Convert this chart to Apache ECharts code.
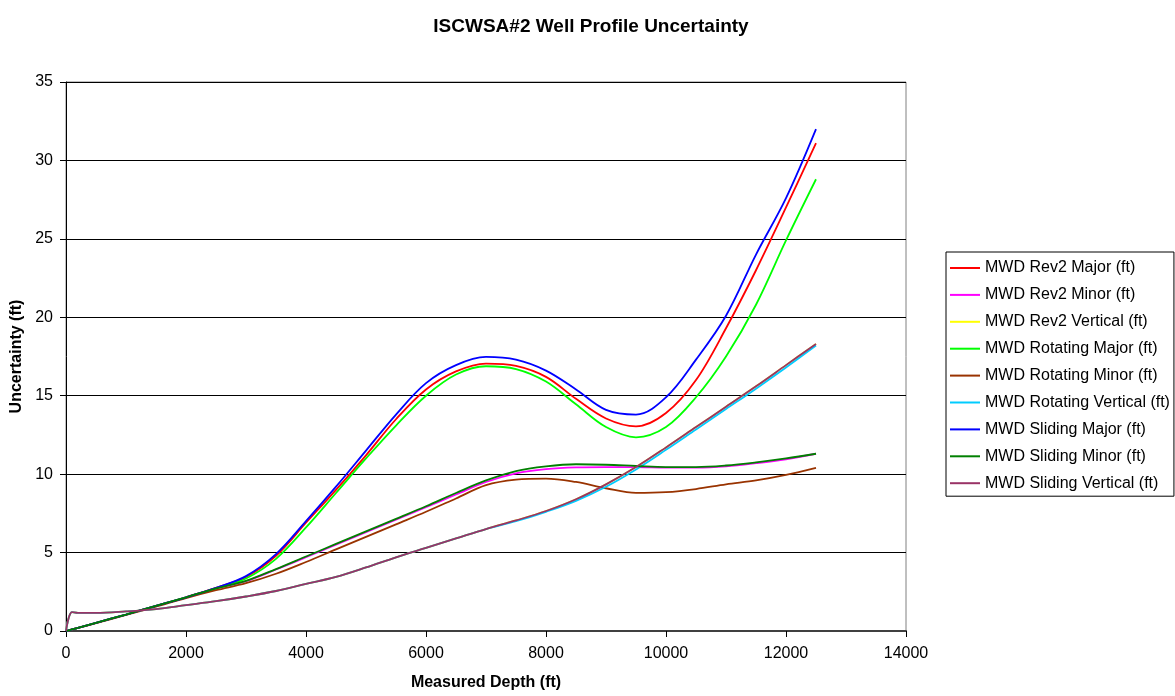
<!DOCTYPE html>
<html>
<head>
<meta charset="utf-8">
<script src="https://cdn.jsdelivr.net/npm/echarts@6/dist/echarts.min.js"></script>
<style>html,body{margin:0;padding:0;background:#fff}#c{width:1175px;height:696px}</style>
</head>
<body>
<div id="c"></div>
<script>
const depths = [0, 100, 200, 500, 1000, 1500, 2000, 2500, 3000, 3500, 4000, 4500, 5000, 5500, 6000, 6500, 7000, 7500, 8000, 8500, 9000, 9500, 10000, 10500, 11000, 11500, 12000, 12500];

const rev2Major      = [0, 0.1, 0.2, 0.52, 1.05, 1.6, 2.15, 2.75, 3.45, 4.8, 6.9, 9.0, 11.2, 13.5, 15.4, 16.55, 17.05, 16.9, 16.2, 14.8, 13.55, 13.05, 13.9, 16.0, 19.3, 23.0, 27.0, 31.1];
const rev2Minor      = [0, 0.1, 0.2, 0.52, 1.05, 1.6, 2.15, 2.72, 3.18, 3.92, 4.7, 5.5, 6.3, 7.1, 7.9, 8.7, 9.5, 10.05, 10.32, 10.43, 10.45, 10.45, 10.42, 10.42, 10.5, 10.7, 10.95, 11.3];
const rev2Vertical   = [0, 1.2, 1.15, 1.15, 1.25, 1.4, 1.65, 1.9, 2.2, 2.55, 3.0, 3.45, 4.05, 4.7, 5.3, 5.9, 6.5, 7.05, 7.65, 8.4, 9.35, 10.45, 11.7, 13.0, 14.3, 15.6, 16.95, 18.3];
const rotMajor       = [0, 0.1, 0.2, 0.52, 1.05, 1.6, 2.15, 2.72, 3.35, 4.6, 6.6, 8.8, 11.0, 13.1, 15.0, 16.35, 16.88, 16.7, 15.9, 14.45, 13.0, 12.35, 13.0, 14.9, 17.5, 20.8, 24.9, 28.8];
const rotMinor       = [0, 0.1, 0.2, 0.5, 1.02, 1.55, 2.1, 2.6, 3.05, 3.65, 4.4, 5.2, 6.0, 6.8, 7.6, 8.45, 9.3, 9.65, 9.72, 9.5, 9.1, 8.8, 8.85, 9.05, 9.35, 9.6, 9.95, 10.4];
const rotVertical    = [0, 1.2, 1.15, 1.15, 1.25, 1.4, 1.65, 1.9, 2.2, 2.55, 3.0, 3.45, 4.05, 4.7, 5.3, 5.9, 6.5, 7.0, 7.6, 8.3, 9.2, 10.3, 11.55, 12.85, 14.15, 15.45, 16.8, 18.2];
const slideMajor     = [0, 0.1, 0.2, 0.52, 1.05, 1.6, 2.15, 2.75, 3.5, 4.9, 7.0, 9.2, 11.5, 13.8, 15.8, 16.95, 17.47, 17.3, 16.6, 15.4, 14.1, 13.8, 14.9, 17.3, 20.1, 24.0, 27.6, 32.0];
const slideMinor     = [0, 0.1, 0.2, 0.52, 1.05, 1.6, 2.15, 2.72, 3.2, 3.95, 4.75, 5.55, 6.35, 7.15, 7.95, 8.8, 9.6, 10.2, 10.5, 10.63, 10.6, 10.52, 10.45, 10.45, 10.55, 10.75, 11.0, 11.3];
const slideVertical  = [0, 1.2, 1.15, 1.15, 1.25, 1.4, 1.65, 1.9, 2.2, 2.55, 3.0, 3.45, 4.05, 4.7, 5.3, 5.9, 6.5, 7.05, 7.65, 8.4, 9.35, 10.45, 11.7, 13.0, 14.3, 15.6, 16.95, 18.3];

const seriesNames = ['MWD Rev2 Major (ft)', 'MWD Rev2 Minor (ft)', 'MWD Rev2 Vertical (ft)', 'MWD Rotating Major (ft)', 'MWD Rotating Minor (ft)', 'MWD Rotating Vertical (ft)', 'MWD Sliding Major (ft)', 'MWD Sliding Minor (ft)', 'MWD Sliding Vertical (ft)'];
const seriesValues = [rev2Major, rev2Minor, rev2Vertical, rotMajor, rotMinor, rotVertical, slideMajor, slideMinor, slideVertical];
const seriesColors = ['#FF0000', '#FF00FF', '#FFFF00', '#00FF00', '#993300', '#00CCFF', '#0000FF', '#008000', '#993366'];

const chart = echarts.init(document.getElementById('c'), null, {renderer: 'canvas'});
const font = 'Liberation Sans, Arial, sans-serif';

chart.setOption({
  animation: false,
  backgroundColor: '#ffffff',
  title: {
    text: 'ISCWSA#2 Well Profile Uncertainty',
    left: 586, top: 12, textAlign: 'center',
    textStyle: {fontFamily: font, fontSize: 19, fontWeight: 'bold', color: '#000'}
  },
  legend: {
    orient: 'vertical',
    left: 946, top: 252,
    padding: [8, 4, 5, 4],
    itemGap: 10.9,
    itemWidth: 30, itemHeight: 2,
    icon: 'rect',
    borderColor: '#000', borderWidth: 1,
    textStyle: {fontFamily: font, fontSize: 16, lineHeight: 16, color: '#000'},
    data: seriesNames
  },
  grid: {
    left: 66, right: 269, top: 82, bottom: 61,
    show: true, borderColor: '#808080', borderWidth: 1, backgroundColor: 'transparent'
  },
  xAxis: {
    type: 'value', min: 0, max: 14000, interval: 2000,
    name: 'Measured Depth (ft)', nameLocation: 'middle', nameGap: 44,
    nameTextStyle: {fontFamily: font, fontSize: 16, fontWeight: 'bold', color: '#000'},
    axisLine: {show: true, lineStyle: {color: '#404040', width: 2}},
    axisTick: {show: true, inside: false, length: 6, lineStyle: {color: '#000'}},
    axisLabel: {fontFamily: font, fontSize: 16, color: '#000', margin: 15, formatter: v => String(v)},
    splitLine: {show: false}
  },
  yAxis: {
    type: 'value', min: 0, max: 35, interval: 5,
    name: 'Uncertainty (ft)', nameLocation: 'middle', nameGap: 38, nameRotate: 90,
    nameTextStyle: {fontFamily: font, fontSize: 16, fontWeight: 'bold', color: '#000'},
    axisLine: {show: true, lineStyle: {color: '#000', width: 1}},
    axisTick: {show: true, inside: false, length: 6, lineStyle: {color: '#000'}},
    axisLabel: {fontFamily: font, fontSize: 16, color: '#000', margin: 13},
    splitLine: {show: true, lineStyle: {color: '#000', width: 1}}
  },
  series: seriesNames.map((n, i) => ({
    name: n,
    type: 'line',
    data: depths.map((d, k) => [d, seriesValues[i][k]]),
    smooth: 0.35,
    showSymbol: false,
    symbol: 'none',
    color: seriesColors[i],
    lineStyle: {color: seriesColors[i], width: 1.8},
    z: 2 + i
  }))
});
</script>
</body>
</html>
